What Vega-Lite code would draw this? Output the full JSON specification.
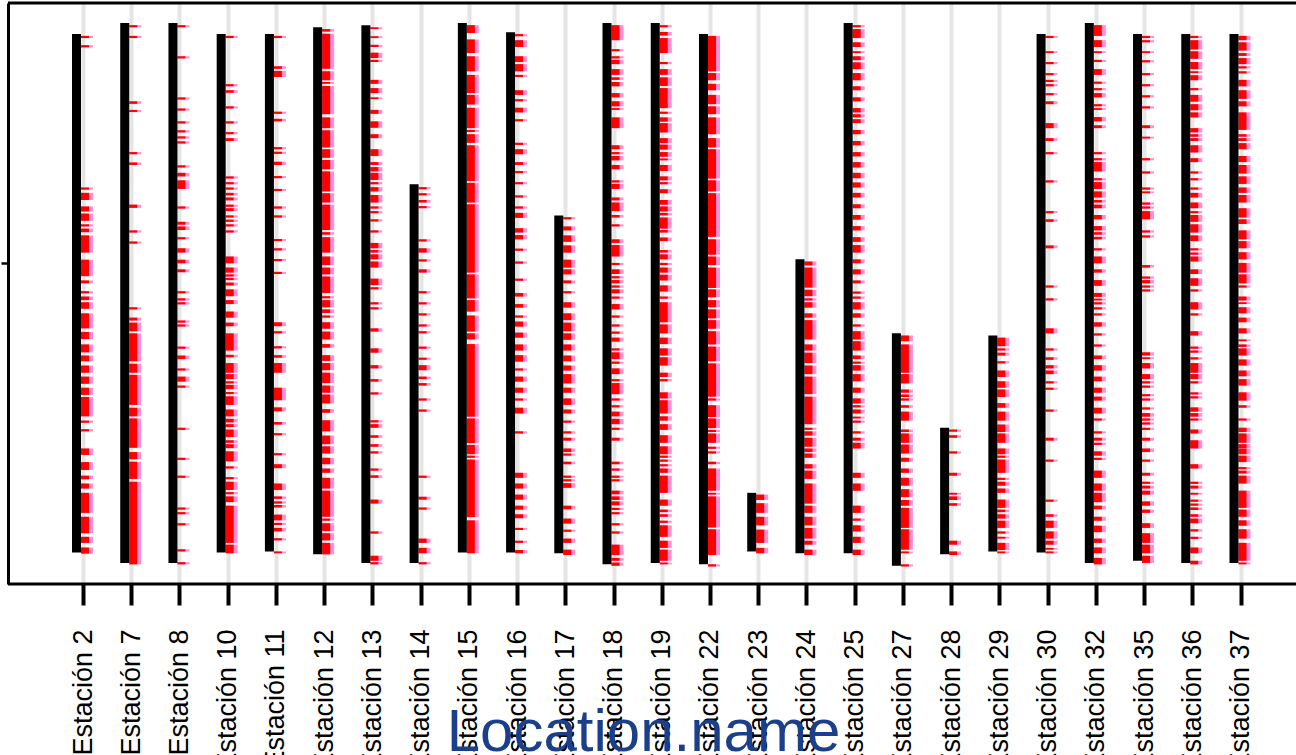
{
  "$schema": "https://vega.github.io/schema/vega-lite/v6.json",
  "width": 1288,
  "height": 581,
  "autosize": "none",
  "padding": {"left": 8, "top": 3, "right": 0, "bottom": 171},
  "background": "white",
  "config": {
    "view": {"stroke": null},
    "axisX": {
      "domain": false,
      "tickColor": "black", "tickWidth": 4, "tickSize": 21,
      "grid": true, "gridColor": "#e5e5e5", "gridWidth": 4,
      "labelAngle": 270, "labelFont": "Liberation Sans, Arial, sans-serif",
      "labelFontSize": 27, "labelColor": "black", "labelPadding": 24, "labelOverlap": false, "labelLimit": 400, "labelBound": false,
      "titleFont": "Liberation Sans, Arial, sans-serif", "titleFontSize": 60, "titleFontWeight": "normal",
      "titleColor": "#1b3f8b", "titleY": 166, "titleX": 635, "titleAlign": "center", "titleBaseline": "alphabetic"
    },
    "axisY": {
      "domainColor": "black", "domainWidth": 3, "tickColor": "black", "tickWidth": 2.5, "tickSize": 7,
      "labels": false, "grid": false, "title": null
    }
  },
  "datasets": {
    "negro": [
      {"s":"Estación 2","a":53,"b":1503},{"s":"Estación 7","a":22,"b":1532},{"s":"Estación 8","a":22,"b":1532},
      {"s":"Estación 10","a":53,"b":1503},{"s":"Estación 11","a":53,"b":1500},{"s":"Estación 12","a":34,"b":1508},
      {"s":"Estación 13","a":28,"b":1532},{"s":"Estación 14","a":473,"b":1532},{"s":"Estación 15","a":22,"b":1503},
      {"s":"Estación 16","a":48,"b":1503},{"s":"Estación 17","a":560,"b":1505},{"s":"Estación 18","a":22,"b":1536},
      {"s":"Estación 19","a":22,"b":1532},{"s":"Estación 22","a":53,"b":1536},{"s":"Estación 23","a":1336,"b":1500},
      {"s":"Estación 24","a":683,"b":1505},{"s":"Estación 25","a":22,"b":1505},{"s":"Estación 27","a":890,"b":1540},
      {"s":"Estación 28","a":1154,"b":1508},{"s":"Estación 29","a":896,"b":1500},{"s":"Estación 30","a":53,"b":1503},
      {"s":"Estación 32","a":22,"b":1532},{"s":"Estación 35","a":53,"b":1526},{"s":"Estación 36","a":53,"b":1532},
      {"s":"Estación 37","a":53,"b":1532}
    ],
    "rojo": [
      {"s":"Estación 2","a":58,"b":64},{"s":"Estación 2","a":84,"b":90},{"s":"Estación 2","a":482,"b":488},{"s":"Estación 2","a":497,"b":517},{"s":"Estación 2","a":535,"b":549},{"s":"Estación 2","a":555,"b":575},{"s":"Estación 2","a":585,"b":591},{"s":"Estación 2","a":597,"b":607},{"s":"Estación 2","a":616,"b":664},{"s":"Estación 2","a":684,"b":730},{"s":"Estación 2","a":742,"b":750},{"s":"Estación 2","a":772,"b":778},{"s":"Estación 2","a":787,"b":797},{"s":"Estación 2","a":803,"b":821},{"s":"Estación 2","a":834,"b":876},{"s":"Estación 2","a":886,"b":906},{"s":"Estación 2","a":921,"b":943},{"s":"Estación 2","a":952,"b":968},{"s":"Estación 2","a":980,"b":1000},{"s":"Estación 2","a":1011,"b":1031},{"s":"Estación 2","a":1042,"b":1062},{"s":"Estación 2","a":1068,"b":1122},{"s":"Estación 2","a":1134,"b":1140},{"s":"Estación 2","a":1158,"b":1164},{"s":"Estación 2","a":1212,"b":1230},{"s":"Estación 2","a":1250,"b":1272},{"s":"Estación 2","a":1288,"b":1298},{"s":"Estación 2","a":1310,"b":1324},{"s":"Estación 2","a":1336,"b":1392},{"s":"Estación 2","a":1403,"b":1449},{"s":"Estación 2","a":1459,"b":1476},{"s":"Estación 2","a":1489,"b":1506},
      {"s":"Estación 7","a":28,"b":34},{"s":"Estación 7","a":58,"b":64},{"s":"Estación 7","a":241,"b":248},{"s":"Estación 7","a":265,"b":271},{"s":"Estación 7","a":383,"b":389},{"s":"Estación 7","a":412,"b":419},{"s":"Estación 7","a":530,"b":539},{"s":"Estación 7","a":602,"b":608},{"s":"Estación 7","a":633,"b":639},{"s":"Estación 7","a":817,"b":823},{"s":"Estación 7","a":846,"b":854},{"s":"Estación 7","a":860,"b":884},{"s":"Estación 7","a":890,"b":968},{"s":"Estación 7","a":975,"b":1000},{"s":"Estación 7","a":1006,"b":1090},{"s":"Estación 7","a":1098,"b":1122},{"s":"Estación 7","a":1128,"b":1210},{"s":"Estación 7","a":1222,"b":1242},{"s":"Estación 7","a":1249,"b":1297},{"s":"Estación 7","a":1305,"b":1536},
      {"s":"Estación 8","a":28,"b":34},{"s":"Estación 8","a":115,"b":121},{"s":"Estación 8","a":230,"b":236},{"s":"Estación 8","a":261,"b":267},{"s":"Estación 8","a":297,"b":303},{"s":"Estación 8","a":322,"b":328},{"s":"Estación 8","a":339,"b":345},{"s":"Estación 8","a":353,"b":359},{"s":"Estación 8","a":420,"b":426},{"s":"Estación 8","a":441,"b":451},{"s":"Estación 8","a":462,"b":486},{"s":"Estación 8","a":535,"b":541},{"s":"Estación 8","a":578,"b":586},{"s":"Estación 8","a":591,"b":601},{"s":"Estación 8","a":621,"b":627},{"s":"Estación 8","a":652,"b":664},{"s":"Estación 8","a":684,"b":694},{"s":"Estación 8","a":711,"b":719},{"s":"Estación 8","a":772,"b":778},{"s":"Estación 8","a":792,"b":798},{"s":"Estación 8","a":803,"b":809},{"s":"Estación 8","a":854,"b":860},{"s":"Estación 8","a":865,"b":871},{"s":"Estación 8","a":927,"b":933},{"s":"Estación 8","a":952,"b":962},{"s":"Estación 8","a":988,"b":994},{"s":"Estación 8","a":1011,"b":1025},{"s":"Estación 8","a":1036,"b":1042},{"s":"Estación 8","a":1154,"b":1160},{"s":"Estación 8","a":1238,"b":1244},{"s":"Estación 8","a":1288,"b":1294},{"s":"Estación 8","a":1377,"b":1383},{"s":"Estación 8","a":1390,"b":1396},{"s":"Estación 8","a":1421,"b":1427},{"s":"Estación 8","a":1494,"b":1500},{"s":"Estación 8","a":1530,"b":1536},
      {"s":"Estación 10","a":58,"b":64},{"s":"Estación 10","a":193,"b":199},{"s":"Estación 10","a":210,"b":217},{"s":"Estación 10","a":255,"b":261},{"s":"Estación 10","a":297,"b":303},{"s":"Estación 10","a":327,"b":333},{"s":"Estación 10","a":344,"b":352},{"s":"Estación 10","a":451,"b":457},{"s":"Estación 10","a":467,"b":473},{"s":"Estación 10","a":482,"b":488},{"s":"Estación 10","a":497,"b":504},{"s":"Estación 10","a":510,"b":518},{"s":"Estación 10","a":530,"b":536},{"s":"Estación 10","a":540,"b":548},{"s":"Estación 10","a":560,"b":566},{"s":"Estación 10","a":572,"b":578},{"s":"Estación 10","a":585,"b":591},{"s":"Estación 10","a":602,"b":608},{"s":"Estación 10","a":675,"b":694},{"s":"Estación 10","a":706,"b":720},{"s":"Estación 10","a":725,"b":731},{"s":"Estación 10","a":735,"b":741},{"s":"Estación 10","a":748,"b":756},{"s":"Estación 10","a":767,"b":786},{"s":"Estación 10","a":797,"b":808},{"s":"Estación 10","a":829,"b":846},{"s":"Estación 10","a":860,"b":870},{"s":"Estación 10","a":890,"b":938},{"s":"Estación 10","a":950,"b":957},{"s":"Estación 10","a":973,"b":1000},{"s":"Estación 10","a":1004,"b":1018},{"s":"Estación 10","a":1024,"b":1030},{"s":"Estación 10","a":1034,"b":1046},{"s":"Estación 10","a":1054,"b":1060},{"s":"Estación 10","a":1066,"b":1090},{"s":"Estación 10","a":1103,"b":1122},{"s":"Estación 10","a":1129,"b":1139},{"s":"Estación 10","a":1144,"b":1152},{"s":"Estación 10","a":1159,"b":1180},{"s":"Estación 10","a":1189,"b":1196},{"s":"Estación 10","a":1200,"b":1211},{"s":"Estación 10","a":1220,"b":1248},{"s":"Estación 10","a":1262,"b":1268},{"s":"Estación 10","a":1292,"b":1298},{"s":"Estación 10","a":1305,"b":1328},{"s":"Estación 10","a":1334,"b":1340},{"s":"Estación 10","a":1346,"b":1362},{"s":"Estación 10","a":1372,"b":1476},{"s":"Estación 10","a":1481,"b":1505},
      {"s":"Estación 11","a":58,"b":64},{"s":"Estación 11","a":143,"b":150},{"s":"Estación 11","a":156,"b":173},{"s":"Estación 11","a":270,"b":276},{"s":"Estación 11","a":290,"b":297},{"s":"Estación 11","a":369,"b":375},{"s":"Estación 11","a":382,"b":388},{"s":"Estación 11","a":410,"b":419},{"s":"Estación 11","a":450,"b":456},{"s":"Estación 11","a":486,"b":492},{"s":"Estación 11","a":535,"b":541},{"s":"Estación 11","a":560,"b":566},{"s":"Estación 11","a":626,"b":632},{"s":"Estación 11","a":652,"b":658},{"s":"Estación 11","a":682,"b":688},{"s":"Estación 11","a":718,"b":724},{"s":"Estación 11","a":859,"b":870},{"s":"Estación 11","a":884,"b":890},{"s":"Estación 11","a":926,"b":932},{"s":"Estación 11","a":951,"b":958},{"s":"Estación 11","a":973,"b":1000},{"s":"Estación 11","a":1042,"b":1077},{"s":"Estación 11","a":1097,"b":1108},{"s":"Estación 11","a":1138,"b":1145},{"s":"Estación 11","a":1169,"b":1175},{"s":"Estación 11","a":1225,"b":1231},{"s":"Estación 11","a":1256,"b":1267},{"s":"Estación 11","a":1310,"b":1328},{"s":"Estación 11","a":1346,"b":1353},{"s":"Estación 11","a":1360,"b":1366},{"s":"Estación 11","a":1370,"b":1377},{"s":"Estación 11","a":1397,"b":1413},{"s":"Estación 11","a":1420,"b":1426},{"s":"Estación 11","a":1434,"b":1444},{"s":"Estación 11","a":1463,"b":1469},{"s":"Estación 11","a":1500,"b":1505},
      {"s":"Estación 12","a":39,"b":46},{"s":"Estación 12","a":52,"b":150},{"s":"Estación 12","a":157,"b":182},{"s":"Estación 12","a":187,"b":192},{"s":"Estación 12","a":198,"b":277},{"s":"Estación 12","a":286,"b":316},{"s":"Estación 12","a":322,"b":370},{"s":"Estación 12","a":375,"b":399},{"s":"Estación 12","a":405,"b":431},{"s":"Estación 12","a":437,"b":493},{"s":"Estación 12","a":498,"b":524},{"s":"Estación 12","a":530,"b":601},{"s":"Estación 12","a":607,"b":614},{"s":"Estación 12","a":621,"b":664},{"s":"Estación 12","a":675,"b":699},{"s":"Estación 12","a":706,"b":725},{"s":"Estación 12","a":731,"b":777},{"s":"Estación 12","a":786,"b":792},{"s":"Estación 12","a":797,"b":817},{"s":"Estación 12","a":823,"b":833},{"s":"Estación 12","a":840,"b":846},{"s":"Estación 12","a":859,"b":877},{"s":"Estación 12","a":885,"b":907},{"s":"Estación 12","a":920,"b":930},{"s":"Estación 12","a":951,"b":967},{"s":"Estación 12","a":973,"b":993},{"s":"Estación 12","a":1000,"b":1029},{"s":"Estación 12","a":1036,"b":1056},{"s":"Estación 12","a":1061,"b":1086},{"s":"Estación 12","a":1102,"b":1112},{"s":"Estación 12","a":1133,"b":1164},{"s":"Estación 12","a":1176,"b":1200},{"s":"Estación 12","a":1206,"b":1226},{"s":"Estación 12","a":1238,"b":1256},{"s":"Estación 12","a":1268,"b":1280},{"s":"Estación 12","a":1294,"b":1324},{"s":"Estación 12","a":1330,"b":1403},{"s":"Estación 12","a":1408,"b":1414},{"s":"Estación 12","a":1421,"b":1443},{"s":"Estación 12","a":1449,"b":1469},{"s":"Estación 12","a":1476,"b":1508},
      {"s":"Estación 13","a":34,"b":39},{"s":"Estación 13","a":59,"b":64},{"s":"Estación 13","a":83,"b":89},{"s":"Estación 13","a":105,"b":120},{"s":"Estación 13","a":125,"b":131},{"s":"Estación 13","a":181,"b":192},{"s":"Estación 13","a":204,"b":218},{"s":"Estación 13","a":230,"b":235},{"s":"Estación 13","a":265,"b":276},{"s":"Estación 13","a":297,"b":315},{"s":"Estación 13","a":333,"b":344},{"s":"Estación 13","a":375,"b":394},{"s":"Estación 13","a":411,"b":419},{"s":"Estación 13","a":425,"b":437},{"s":"Estación 13","a":441,"b":461},{"s":"Estación 13","a":467,"b":473},{"s":"Estación 13","a":481,"b":493},{"s":"Estación 13","a":503,"b":524},{"s":"Estación 13","a":535,"b":541},{"s":"Estación 13","a":548,"b":554},{"s":"Estación 13","a":571,"b":577},{"s":"Estación 13","a":602,"b":608},{"s":"Estación 13","a":637,"b":652},{"s":"Estación 13","a":657,"b":664},{"s":"Estación 13","a":669,"b":683},{"s":"Estación 13","a":689,"b":706},{"s":"Estación 13","a":737,"b":755},{"s":"Estación 13","a":761,"b":767},{"s":"Estación 13","a":803,"b":809},{"s":"Estación 13","a":817,"b":823},{"s":"Estación 13","a":876,"b":885},{"s":"Estación 13","a":932,"b":944},{"s":"Estación 13","a":979,"b":988},{"s":"Estación 13","a":1018,"b":1025},{"s":"Estación 13","a":1055,"b":1061},{"s":"Estación 13","a":1133,"b":1139},{"s":"Estación 13","a":1144,"b":1154},{"s":"Estación 13","a":1175,"b":1182},{"s":"Estación 13","a":1200,"b":1207},{"s":"Estación 13","a":1220,"b":1226},{"s":"Estación 13","a":1268,"b":1274},{"s":"Estación 13","a":1287,"b":1294},{"s":"Estación 13","a":1355,"b":1366},{"s":"Estación 13","a":1444,"b":1450},{"s":"Estación 13","a":1512,"b":1526},{"s":"Estación 13","a":1530,"b":1536},
      {"s":"Estación 14","a":481,"b":487},{"s":"Estación 14","a":498,"b":504},{"s":"Estación 14","a":517,"b":524},{"s":"Estación 14","a":534,"b":540},{"s":"Estación 14","a":627,"b":633},{"s":"Estación 14","a":652,"b":664},{"s":"Estación 14","a":683,"b":689},{"s":"Estación 14","a":711,"b":720},{"s":"Estación 14","a":772,"b":778},{"s":"Estación 14","a":803,"b":809},{"s":"Estación 14","a":834,"b":840},{"s":"Estación 14","a":865,"b":871},{"s":"Estación 14","a":884,"b":890},{"s":"Estación 14","a":927,"b":933},{"s":"Estación 14","a":958,"b":964},{"s":"Estación 14","a":979,"b":993},{"s":"Estación 14","a":1011,"b":1018},{"s":"Estación 14","a":1029,"b":1036},{"s":"Estación 14","a":1072,"b":1078},{"s":"Estación 14","a":1103,"b":1109},{"s":"Estación 14","a":1288,"b":1294},{"s":"Estación 14","a":1347,"b":1355},{"s":"Estación 14","a":1377,"b":1383},{"s":"Estación 14","a":1464,"b":1476},{"s":"Estación 14","a":1490,"b":1505},{"s":"Estación 14","a":1530,"b":1536},
      {"s":"Estación 15","a":28,"b":50},{"s":"Estación 15","a":68,"b":106},{"s":"Estación 15","a":115,"b":157},{"s":"Estación 15","a":167,"b":218},{"s":"Estación 15","a":223,"b":250},{"s":"Estación 15","a":259,"b":316},{"s":"Estación 15","a":321,"b":327},{"s":"Estación 15","a":333,"b":357},{"s":"Estación 15","a":364,"b":464},{"s":"Estación 15","a":469,"b":524},{"s":"Estación 15","a":529,"b":720},{"s":"Estación 15","a":725,"b":792},{"s":"Estación 15","a":797,"b":829},{"s":"Estación 15","a":840,"b":885},{"s":"Estación 15","a":890,"b":907},{"s":"Estación 15","a":920,"b":1123},{"s":"Estación 15","a":1128,"b":1197},{"s":"Estación 15","a":1202,"b":1228},{"s":"Estación 15","a":1232,"b":1238},{"s":"Estación 15","a":1243,"b":1404},{"s":"Estación 15","a":1413,"b":1505},
      {"s":"Estación 16","a":53,"b":59},{"s":"Estación 16","a":70,"b":89},{"s":"Estación 16","a":115,"b":131},{"s":"Estación 16","a":137,"b":157},{"s":"Estación 16","a":167,"b":173},{"s":"Estación 16","a":210,"b":223},{"s":"Estación 16","a":235,"b":241},{"s":"Estación 16","a":259,"b":272},{"s":"Estación 16","a":291,"b":297},{"s":"Estación 16","a":357,"b":363},{"s":"Estación 16","a":375,"b":389},{"s":"Estación 16","a":411,"b":419},{"s":"Estación 16","a":436,"b":442},{"s":"Estación 16","a":467,"b":473},{"s":"Estación 16","a":504,"b":510},{"s":"Estación 16","a":535,"b":541},{"s":"Estación 16","a":553,"b":567},{"s":"Estación 16","a":596,"b":608},{"s":"Estación 16","a":615,"b":627},{"s":"Estación 16","a":653,"b":659},{"s":"Estación 16","a":689,"b":695},{"s":"Estación 16","a":737,"b":743},{"s":"Estación 16","a":777,"b":787},{"s":"Estación 16","a":808,"b":818},{"s":"Estación 16","a":840,"b":846},{"s":"Estación 16","a":857,"b":871},{"s":"Estación 16","a":888,"b":902},{"s":"Estación 16","a":921,"b":938},{"s":"Estación 16","a":951,"b":969},{"s":"Estación 16","a":988,"b":994},{"s":"Estación 16","a":1011,"b":1025},{"s":"Estación 16","a":1042,"b":1056},{"s":"Estación 16","a":1072,"b":1078},{"s":"Estación 16","a":1098,"b":1114},{"s":"Estación 16","a":1164,"b":1170},{"s":"Estación 16","a":1280,"b":1294},{"s":"Estación 16","a":1310,"b":1324},{"s":"Estación 16","a":1341,"b":1355},{"s":"Estación 16","a":1372,"b":1383},{"s":"Estación 16","a":1396,"b":1407},{"s":"Estación 16","a":1434,"b":1440},{"s":"Estación 16","a":1470,"b":1476},{"s":"Estación 16","a":1496,"b":1505},
      {"s":"Estación 17","a":565,"b":571},{"s":"Estación 17","a":591,"b":602},{"s":"Estación 17","a":616,"b":634},{"s":"Estación 17","a":644,"b":664},{"s":"Estación 17","a":684,"b":706},{"s":"Estación 17","a":711,"b":725},{"s":"Estación 17","a":742,"b":750},{"s":"Estación 17","a":772,"b":778},{"s":"Estación 17","a":803,"b":818},{"s":"Estación 17","a":834,"b":853},{"s":"Estación 17","a":860,"b":884},{"s":"Estación 17","a":890,"b":908},{"s":"Estación 17","a":921,"b":938},{"s":"Estación 17","a":952,"b":968},{"s":"Estación 17","a":980,"b":994},{"s":"Estación 17","a":1004,"b":1030},{"s":"Estación 17","a":1042,"b":1056},{"s":"Estación 17","a":1072,"b":1090},{"s":"Estación 17","a":1103,"b":1114},{"s":"Estación 17","a":1134,"b":1140},{"s":"Estación 17","a":1164,"b":1170},{"s":"Estación 17","a":1182,"b":1190},{"s":"Estación 17","a":1212,"b":1222},{"s":"Estación 17","a":1226,"b":1232},{"s":"Estación 17","a":1249,"b":1256},{"s":"Estación 17","a":1288,"b":1294},{"s":"Estación 17","a":1298,"b":1304},{"s":"Estación 17","a":1309,"b":1322},{"s":"Estación 17","a":1372,"b":1382},{"s":"Estación 17","a":1408,"b":1422},{"s":"Estación 17","a":1439,"b":1445},{"s":"Estación 17","a":1464,"b":1476},{"s":"Estación 17","a":1495,"b":1510},
      {"s":"Estación 18","a":28,"b":70},{"s":"Estación 18","a":95,"b":101},{"s":"Estación 18","a":115,"b":121},{"s":"Estación 18","a":125,"b":137},{"s":"Estación 18","a":151,"b":167},{"s":"Estación 18","a":174,"b":181},{"s":"Estación 18","a":187,"b":199},{"s":"Estación 18","a":218,"b":230},{"s":"Estación 18","a":241,"b":255},{"s":"Estación 18","a":260,"b":265},{"s":"Estación 18","a":286,"b":316},{"s":"Estación 18","a":364,"b":375},{"s":"Estación 18","a":383,"b":389},{"s":"Estación 18","a":394,"b":406},{"s":"Estación 18","a":419,"b":431},{"s":"Estación 18","a":462,"b":468},{"s":"Estación 18","a":472,"b":486},{"s":"Estación 18","a":510,"b":518},{"s":"Estación 18","a":524,"b":548},{"s":"Estación 18","a":559,"b":566},{"s":"Estación 18","a":585,"b":591},{"s":"Estación 18","a":627,"b":637},{"s":"Estación 18","a":643,"b":675},{"s":"Estación 18","a":693,"b":699},{"s":"Estación 18","a":711,"b":724},{"s":"Estación 18","a":730,"b":736},{"s":"Estación 18","a":741,"b":750},{"s":"Estación 18","a":756,"b":762},{"s":"Estación 18","a":767,"b":778},{"s":"Estación 18","a":787,"b":793},{"s":"Estación 18","a":808,"b":823},{"s":"Estación 18","a":840,"b":846},{"s":"Estación 18","a":865,"b":871},{"s":"Estación 18","a":885,"b":891},{"s":"Estación 18","a":902,"b":913},{"s":"Estación 18","a":932,"b":938},{"s":"Estación 18","a":943,"b":962},{"s":"Estación 18","a":969,"b":975},{"s":"Estación 18","a":988,"b":1004},{"s":"Estación 18","a":1018,"b":1024},{"s":"Estación 18","a":1029,"b":1060},{"s":"Estación 18","a":1072,"b":1078},{"s":"Estación 18","a":1091,"b":1097},{"s":"Estación 18","a":1109,"b":1122},{"s":"Estación 18","a":1129,"b":1144},{"s":"Estación 18","a":1154,"b":1160},{"s":"Estación 18","a":1182,"b":1190},{"s":"Estación 18","a":1249,"b":1256},{"s":"Estación 18","a":1268,"b":1274},{"s":"Estación 18","a":1288,"b":1294},{"s":"Estación 18","a":1298,"b":1304},{"s":"Estación 18","a":1330,"b":1340},{"s":"Estación 18","a":1346,"b":1356},{"s":"Estación 18","a":1360,"b":1371},{"s":"Estación 18","a":1378,"b":1384},{"s":"Estación 18","a":1390,"b":1396},{"s":"Estación 18","a":1421,"b":1427},{"s":"Estación 18","a":1444,"b":1450},{"s":"Estación 18","a":1481,"b":1510},{"s":"Estación 18","a":1518,"b":1526},{"s":"Estación 18","a":1531,"b":1540},
      {"s":"Estación 19","a":28,"b":34},{"s":"Estación 19","a":47,"b":57},{"s":"Estación 19","a":64,"b":106},{"s":"Estación 19","a":131,"b":137},{"s":"Estación 19","a":151,"b":167},{"s":"Estación 19","a":174,"b":198},{"s":"Estación 19","a":204,"b":260},{"s":"Estación 19","a":270,"b":276},{"s":"Estación 19","a":286,"b":298},{"s":"Estación 19","a":302,"b":328},{"s":"Estación 19","a":344,"b":358},{"s":"Estación 19","a":362,"b":376},{"s":"Estación 19","a":383,"b":396},{"s":"Estación 19","a":401,"b":406},{"s":"Estación 19","a":419,"b":436},{"s":"Estación 19","a":451,"b":462},{"s":"Estación 19","a":467,"b":473},{"s":"Estación 19","a":487,"b":498},{"s":"Estación 19","a":517,"b":530},{"s":"Estación 19","a":535,"b":549},{"s":"Estación 19","a":553,"b":560},{"s":"Estación 19","a":566,"b":597},{"s":"Estación 19","a":601,"b":608},{"s":"Estación 19","a":622,"b":632},{"s":"Estación 19","a":657,"b":664},{"s":"Estación 19","a":669,"b":683},{"s":"Estación 19","a":693,"b":699},{"s":"Estación 19","a":706,"b":720},{"s":"Estación 19","a":726,"b":742},{"s":"Estación 19","a":756,"b":773},{"s":"Estación 19","a":787,"b":793},{"s":"Estación 19","a":803,"b":859},{"s":"Estación 19","a":865,"b":890},{"s":"Estación 19","a":902,"b":920},{"s":"Estación 19","a":932,"b":952},{"s":"Estación 19","a":957,"b":980},{"s":"Estación 19","a":1000,"b":1012},{"s":"Estación 19","a":1018,"b":1024},{"s":"Estación 19","a":1055,"b":1072},{"s":"Estación 19","a":1077,"b":1114},{"s":"Estación 19","a":1122,"b":1134},{"s":"Estación 19","a":1144,"b":1160},{"s":"Estación 19","a":1175,"b":1196},{"s":"Estación 19","a":1206,"b":1228},{"s":"Estación 19","a":1232,"b":1238},{"s":"Estación 19","a":1243,"b":1249},{"s":"Estación 19","a":1256,"b":1262},{"s":"Estación 19","a":1268,"b":1280},{"s":"Estación 19","a":1288,"b":1336},{"s":"Estación 19","a":1355,"b":1372},{"s":"Estación 19","a":1383,"b":1390},{"s":"Estación 19","a":1396,"b":1403},{"s":"Estación 19","a":1414,"b":1420},{"s":"Estación 19","a":1427,"b":1459},{"s":"Estación 19","a":1470,"b":1490},{"s":"Estación 19","a":1495,"b":1526},{"s":"Estación 19","a":1531,"b":1536},
      {"s":"Estación 22","a":58,"b":157},{"s":"Estación 22","a":162,"b":182},{"s":"Estación 22","a":192,"b":210},{"s":"Estación 22","a":223,"b":249},{"s":"Estación 22","a":255,"b":277},{"s":"Estación 22","a":286,"b":333},{"s":"Estación 22","a":344,"b":370},{"s":"Estación 22","a":375,"b":457},{"s":"Estación 22","a":462,"b":493},{"s":"Estación 22","a":498,"b":620},{"s":"Estación 22","a":627,"b":670},{"s":"Estación 22","a":675,"b":699},{"s":"Estación 22","a":706,"b":763},{"s":"Estación 22","a":767,"b":789},{"s":"Estación 22","a":797,"b":817},{"s":"Estación 22","a":823,"b":848},{"s":"Estación 22","a":853,"b":877},{"s":"Estación 22","a":884,"b":921},{"s":"Estación 22","a":927,"b":968},{"s":"Estación 22","a":974,"b":1067},{"s":"Estación 22","a":1072,"b":1078},{"s":"Estación 22","a":1091,"b":1124},{"s":"Estación 22","a":1128,"b":1155},{"s":"Estación 22","a":1160,"b":1166},{"s":"Estación 22","a":1170,"b":1196},{"s":"Estación 22","a":1207,"b":1213},{"s":"Estación 22","a":1220,"b":1226},{"s":"Estación 22","a":1249,"b":1256},{"s":"Estación 22","a":1268,"b":1330},{"s":"Estación 22","a":1336,"b":1341},{"s":"Estación 22","a":1346,"b":1433},{"s":"Estación 22","a":1438,"b":1510},{"s":"Estación 22","a":1536,"b":1542},
      {"s":"Estación 23","a":1341,"b":1356},{"s":"Estación 23","a":1365,"b":1392},{"s":"Estación 23","a":1403,"b":1427},{"s":"Estación 23","a":1439,"b":1476},{"s":"Estación 23","a":1490,"b":1505},
      {"s":"Estación 24","a":689,"b":700},{"s":"Estación 24","a":706,"b":762},{"s":"Estación 24","a":768,"b":786},{"s":"Estación 24","a":792,"b":798},{"s":"Estación 24","a":803,"b":818},{"s":"Estación 24","a":834,"b":846},{"s":"Estación 24","a":853,"b":907},{"s":"Estación 24","a":921,"b":938},{"s":"Estación 24","a":944,"b":973},{"s":"Estación 24","a":980,"b":1004},{"s":"Estación 24","a":1011,"b":1060},{"s":"Estación 24","a":1067,"b":1144},{"s":"Estación 24","a":1154,"b":1160},{"s":"Estación 24","a":1164,"b":1176},{"s":"Estación 24","a":1182,"b":1207},{"s":"Estación 24","a":1212,"b":1222},{"s":"Estación 24","a":1226,"b":1238},{"s":"Estación 24","a":1256,"b":1268},{"s":"Estación 24","a":1274,"b":1297},{"s":"Estación 24","a":1310,"b":1366},{"s":"Estación 24","a":1372,"b":1392},{"s":"Estación 24","a":1403,"b":1427},{"s":"Estación 24","a":1434,"b":1464},{"s":"Estación 24","a":1470,"b":1481},{"s":"Estación 24","a":1495,"b":1510},
      {"s":"Estación 25","a":28,"b":34},{"s":"Estación 25","a":39,"b":64},{"s":"Estación 25","a":76,"b":89},{"s":"Estación 25","a":101,"b":106},{"s":"Estación 25","a":115,"b":126},{"s":"Estación 25","a":132,"b":151},{"s":"Estación 25","a":162,"b":182},{"s":"Estación 25","a":199,"b":210},{"s":"Estación 25","a":230,"b":241},{"s":"Estación 25","a":260,"b":272},{"s":"Estación 25","a":277,"b":286},{"s":"Estación 25","a":291,"b":302},{"s":"Estación 25","a":321,"b":333},{"s":"Estación 25","a":352,"b":364},{"s":"Estación 25","a":383,"b":395},{"s":"Estación 25","a":411,"b":426},{"s":"Estación 25","a":441,"b":456},{"s":"Estación 25","a":468,"b":482},{"s":"Estación 25","a":497,"b":510},{"s":"Estación 25","a":529,"b":540},{"s":"Estación 25","a":559,"b":572},{"s":"Estación 25","a":590,"b":602},{"s":"Estación 25","a":621,"b":634},{"s":"Estación 25","a":643,"b":664},{"s":"Estación 25","a":683,"b":694},{"s":"Estación 25","a":711,"b":725},{"s":"Estación 25","a":742,"b":750},{"s":"Estación 25","a":773,"b":779},{"s":"Estación 25","a":787,"b":793},{"s":"Estación 25","a":803,"b":823},{"s":"Estación 25","a":834,"b":846},{"s":"Estación 25","a":865,"b":871},{"s":"Estación 25","a":884,"b":907},{"s":"Estación 25","a":912,"b":938},{"s":"Estación 25","a":952,"b":962},{"s":"Estación 25","a":969,"b":975},{"s":"Estación 25","a":979,"b":994},{"s":"Estación 25","a":1004,"b":1024},{"s":"Estación 25","a":1042,"b":1056},{"s":"Estación 25","a":1072,"b":1086},{"s":"Estación 25","a":1091,"b":1097},{"s":"Estación 25","a":1103,"b":1114},{"s":"Estación 25","a":1123,"b":1128},{"s":"Estación 25","a":1134,"b":1140},{"s":"Estación 25","a":1164,"b":1170},{"s":"Estación 25","a":1182,"b":1190},{"s":"Estación 25","a":1196,"b":1212},{"s":"Estación 25","a":1280,"b":1294},{"s":"Estación 25","a":1310,"b":1330},{"s":"Estación 25","a":1372,"b":1392},{"s":"Estación 25","a":1408,"b":1414},{"s":"Estación 25","a":1427,"b":1444},{"s":"Estación 25","a":1459,"b":1476},{"s":"Estación 25","a":1495,"b":1510},
      {"s":"Estación 27","a":896,"b":912},{"s":"Estación 27","a":921,"b":1000},{"s":"Estación 27","a":1004,"b":1030},{"s":"Estación 27","a":1047,"b":1056},{"s":"Estación 27","a":1061,"b":1068},{"s":"Estación 27","a":1072,"b":1078},{"s":"Estación 27","a":1091,"b":1098},{"s":"Estación 27","a":1109,"b":1134},{"s":"Estación 27","a":1159,"b":1166},{"s":"Estación 27","a":1170,"b":1196},{"s":"Estación 27","a":1201,"b":1226},{"s":"Estación 27","a":1238,"b":1249},{"s":"Estación 27","a":1268,"b":1280},{"s":"Estación 27","a":1294,"b":1316},{"s":"Estación 27","a":1326,"b":1348},{"s":"Estación 27","a":1356,"b":1372},{"s":"Estación 27","a":1378,"b":1434},{"s":"Estación 27","a":1438,"b":1495},{"s":"Estación 27","a":1500,"b":1505},{"s":"Estación 27","a":1536,"b":1542},
      {"s":"Estación 28","a":1159,"b":1165},{"s":"Estación 28","a":1175,"b":1182},{"s":"Estación 28","a":1220,"b":1226},{"s":"Estación 28","a":1280,"b":1288},{"s":"Estación 28","a":1336,"b":1341},{"s":"Estación 28","a":1346,"b":1356},{"s":"Estación 28","a":1365,"b":1372},{"s":"Estación 28","a":1470,"b":1481},{"s":"Estación 28","a":1500,"b":1510},
      {"s":"Estación 29","a":902,"b":926},{"s":"Estación 29","a":932,"b":938},{"s":"Estación 29","a":944,"b":952},{"s":"Estación 29","a":968,"b":974},{"s":"Estación 29","a":994,"b":1012},{"s":"Estación 29","a":1024,"b":1042},{"s":"Estación 29","a":1047,"b":1068},{"s":"Estación 29","a":1085,"b":1098},{"s":"Estación 29","a":1109,"b":1134},{"s":"Estación 29","a":1145,"b":1166},{"s":"Estación 29","a":1170,"b":1196},{"s":"Estación 29","a":1212,"b":1228},{"s":"Estación 29","a":1232,"b":1238},{"s":"Estación 29","a":1243,"b":1280},{"s":"Estación 29","a":1294,"b":1300},{"s":"Estación 29","a":1305,"b":1316},{"s":"Estación 29","a":1324,"b":1336},{"s":"Estación 29","a":1355,"b":1378},{"s":"Estación 29","a":1383,"b":1390},{"s":"Estación 29","a":1396,"b":1408},{"s":"Estación 29","a":1414,"b":1434},{"s":"Estación 29","a":1444,"b":1450},{"s":"Estación 29","a":1459,"b":1464},{"s":"Estación 29","a":1476,"b":1496},{"s":"Estación 29","a":1500,"b":1505},
      {"s":"Estación 30","a":58,"b":64},{"s":"Estación 30","a":101,"b":106},{"s":"Estación 30","a":131,"b":137},{"s":"Estación 30","a":162,"b":168},{"s":"Estación 30","a":181,"b":187},{"s":"Estación 30","a":193,"b":199},{"s":"Estación 30","a":218,"b":224},{"s":"Estación 30","a":241,"b":249},{"s":"Estación 30","a":302,"b":316},{"s":"Estación 30","a":344,"b":352},{"s":"Estación 30","a":383,"b":389},{"s":"Estación 30","a":462,"b":468},{"s":"Estación 30","a":548,"b":554},{"s":"Estación 30","a":571,"b":578},{"s":"Estación 30","a":644,"b":652},{"s":"Estación 30","a":756,"b":762},{"s":"Estación 30","a":792,"b":798},{"s":"Estación 30","a":876,"b":890},{"s":"Estación 30","a":932,"b":938},{"s":"Estación 30","a":957,"b":964},{"s":"Estación 30","a":979,"b":988},{"s":"Estación 30","a":994,"b":1004},{"s":"Estación 30","a":1024,"b":1030},{"s":"Estación 30","a":1042,"b":1048},{"s":"Estación 30","a":1103,"b":1109},{"s":"Estación 30","a":1182,"b":1190},{"s":"Estación 30","a":1243,"b":1249},{"s":"Estación 30","a":1355,"b":1361},{"s":"Estación 30","a":1396,"b":1403},{"s":"Estación 30","a":1414,"b":1434},{"s":"Estación 30","a":1444,"b":1464},{"s":"Estación 30","a":1470,"b":1481},{"s":"Estación 30","a":1490,"b":1495},{"s":"Estación 30","a":1500,"b":1505},
      {"s":"Estación 32","a":28,"b":58},{"s":"Estación 32","a":70,"b":89},{"s":"Estación 32","a":101,"b":106},{"s":"Estación 32","a":125,"b":131},{"s":"Estación 32","a":151,"b":167},{"s":"Estación 32","a":186,"b":192},{"s":"Estación 32","a":204,"b":210},{"s":"Estación 32","a":218,"b":230},{"s":"Estación 32","a":249,"b":255},{"s":"Estación 32","a":260,"b":265},{"s":"Estación 32","a":285,"b":297},{"s":"Estación 32","a":308,"b":316},{"s":"Estación 32","a":383,"b":389},{"s":"Estación 32","a":400,"b":406},{"s":"Estación 32","a":411,"b":437},{"s":"Estación 32","a":456,"b":462},{"s":"Estación 32","a":467,"b":486},{"s":"Estación 32","a":493,"b":510},{"s":"Estación 32","a":517,"b":524},{"s":"Estación 32","a":530,"b":540},{"s":"Estación 32","a":559,"b":571},{"s":"Estación 32","a":590,"b":602},{"s":"Estación 32","a":607,"b":614},{"s":"Estación 32","a":620,"b":627},{"s":"Estación 32","a":652,"b":658},{"s":"Estación 32","a":675,"b":694},{"s":"Estación 32","a":711,"b":720},{"s":"Estación 32","a":741,"b":757},{"s":"Estación 32","a":777,"b":788},{"s":"Estación 32","a":793,"b":798},{"s":"Estación 32","a":803,"b":809},{"s":"Estación 32","a":817,"b":823},{"s":"Estación 32","a":834,"b":840},{"s":"Estación 32","a":859,"b":871},{"s":"Estación 32","a":890,"b":896},{"s":"Estación 32","a":921,"b":927},{"s":"Estación 32","a":952,"b":962},{"s":"Estación 32","a":979,"b":994},{"s":"Estación 32","a":1011,"b":1024},{"s":"Estación 32","a":1042,"b":1056},{"s":"Estación 32","a":1067,"b":1078},{"s":"Estación 32","a":1098,"b":1114},{"s":"Estación 32","a":1128,"b":1134},{"s":"Estación 32","a":1164,"b":1170},{"s":"Estación 32","a":1182,"b":1190},{"s":"Estación 32","a":1196,"b":1202},{"s":"Estación 32","a":1220,"b":1232},{"s":"Estación 32","a":1238,"b":1244},{"s":"Estación 32","a":1274,"b":1294},{"s":"Estación 32","a":1310,"b":1330},{"s":"Estación 32","a":1336,"b":1362},{"s":"Estación 32","a":1372,"b":1382},{"s":"Estación 32","a":1403,"b":1414},{"s":"Estación 32","a":1428,"b":1446},{"s":"Estación 32","a":1464,"b":1476},{"s":"Estación 32","a":1489,"b":1505},{"s":"Estación 32","a":1518,"b":1536},
      {"s":"Estación 35","a":58,"b":64},{"s":"Estación 35","a":70,"b":76},{"s":"Estación 35","a":101,"b":106},{"s":"Estación 35","a":126,"b":132},{"s":"Estación 35","a":162,"b":168},{"s":"Estación 35","a":193,"b":199},{"s":"Estación 35","a":224,"b":230},{"s":"Estación 35","a":255,"b":261},{"s":"Estación 35","a":308,"b":316},{"s":"Estación 35","a":340,"b":345},{"s":"Estación 35","a":400,"b":406},{"s":"Estación 35","a":437,"b":443},{"s":"Estación 35","a":482,"b":488},{"s":"Estación 35","a":493,"b":498},{"s":"Estación 35","a":524,"b":530},{"s":"Estación 35","a":535,"b":541},{"s":"Estación 35","a":548,"b":571},{"s":"Estación 35","a":602,"b":608},{"s":"Estación 35","a":616,"b":622},{"s":"Estación 35","a":699,"b":706},{"s":"Estación 35","a":731,"b":737},{"s":"Estación 35","a":741,"b":750},{"s":"Estación 35","a":756,"b":762},{"s":"Estación 35","a":767,"b":773},{"s":"Estación 35","a":943,"b":952},{"s":"Estación 35","a":957,"b":962},{"s":"Estación 35","a":973,"b":988},{"s":"Estación 35","a":1004,"b":1018},{"s":"Estación 35","a":1024,"b":1030},{"s":"Estación 35","a":1036,"b":1042},{"s":"Estación 35","a":1060,"b":1066},{"s":"Estación 35","a":1072,"b":1078},{"s":"Estación 35","a":1097,"b":1103},{"s":"Estación 35","a":1113,"b":1123},{"s":"Estación 35","a":1128,"b":1134},{"s":"Estación 35","a":1139,"b":1145},{"s":"Estación 35","a":1154,"b":1160},{"s":"Estación 35","a":1182,"b":1190},{"s":"Estación 35","a":1212,"b":1222},{"s":"Estación 35","a":1243,"b":1249},{"s":"Estación 35","a":1280,"b":1288},{"s":"Estación 35","a":1305,"b":1311},{"s":"Estación 35","a":1316,"b":1324},{"s":"Estación 35","a":1330,"b":1341},{"s":"Estación 35","a":1360,"b":1372},{"s":"Estación 35","a":1383,"b":1392},{"s":"Estación 35","a":1421,"b":1434},{"s":"Estación 35","a":1449,"b":1476},{"s":"Estación 35","a":1481,"b":1505},{"s":"Estación 35","a":1512,"b":1532},
      {"s":"Estación 36","a":58,"b":64},{"s":"Estación 36","a":70,"b":96},{"s":"Estación 36","a":101,"b":122},{"s":"Estación 36","a":131,"b":151},{"s":"Estación 36","a":157,"b":162},{"s":"Estación 36","a":168,"b":182},{"s":"Estación 36","a":204,"b":210},{"s":"Estación 36","a":223,"b":242},{"s":"Estación 36","a":249,"b":266},{"s":"Estación 36","a":272,"b":286},{"s":"Estación 36","a":316,"b":328},{"s":"Estación 36","a":333,"b":340},{"s":"Estación 36","a":344,"b":352},{"s":"Estación 36","a":364,"b":384},{"s":"Estación 36","a":400,"b":411},{"s":"Estación 36","a":437,"b":443},{"s":"Estación 36","a":456,"b":462},{"s":"Estación 36","a":482,"b":488},{"s":"Estación 36","a":497,"b":510},{"s":"Estación 36","a":524,"b":540},{"s":"Estación 36","a":548,"b":554},{"s":"Estación 36","a":559,"b":578},{"s":"Estación 36","a":585,"b":608},{"s":"Estación 36","a":616,"b":632},{"s":"Estación 36","a":652,"b":658},{"s":"Estación 36","a":664,"b":670},{"s":"Estación 36","a":675,"b":689},{"s":"Estación 36","a":711,"b":724},{"s":"Estación 36","a":736,"b":757},{"s":"Estación 36","a":767,"b":773},{"s":"Estación 36","a":803,"b":823},{"s":"Estación 36","a":834,"b":840},{"s":"Estación 36","a":884,"b":896},{"s":"Estación 36","a":927,"b":933},{"s":"Estación 36","a":938,"b":944},{"s":"Estación 36","a":957,"b":963},{"s":"Estación 36","a":973,"b":1000},{"s":"Estación 36","a":1004,"b":1018},{"s":"Estación 36","a":1024,"b":1030},{"s":"Estación 36","a":1055,"b":1061},{"s":"Estación 36","a":1066,"b":1072},{"s":"Estación 36","a":1097,"b":1109},{"s":"Estación 36","a":1113,"b":1123},{"s":"Estación 36","a":1128,"b":1134},{"s":"Estación 36","a":1159,"b":1170},{"s":"Estación 36","a":1189,"b":1212},{"s":"Estación 36","a":1256,"b":1268},{"s":"Estación 36","a":1305,"b":1311},{"s":"Estación 36","a":1316,"b":1324},{"s":"Estación 36","a":1336,"b":1341},{"s":"Estación 36","a":1355,"b":1361},{"s":"Estación 36","a":1366,"b":1372},{"s":"Estación 36","a":1377,"b":1384},{"s":"Estación 36","a":1396,"b":1403},{"s":"Estación 36","a":1408,"b":1421},{"s":"Estación 36","a":1438,"b":1444},{"s":"Estación 36","a":1459,"b":1465},{"s":"Estación 36","a":1489,"b":1505},{"s":"Estación 36","a":1526,"b":1536},
      {"s":"Estación 37","a":58,"b":70},{"s":"Estación 37","a":76,"b":99},{"s":"Estación 37","a":106,"b":114},{"s":"Estación 37","a":120,"b":137},{"s":"Estación 37","a":143,"b":149},{"s":"Estación 37","a":157,"b":163},{"s":"Estación 37","a":181,"b":199},{"s":"Estación 37","a":210,"b":234},{"s":"Estación 37","a":241,"b":255},{"s":"Estación 37","a":272,"b":321},{"s":"Estación 37","a":333,"b":340},{"s":"Estación 37","a":344,"b":352},{"s":"Estación 37","a":358,"b":375},{"s":"Estación 37","a":394,"b":411},{"s":"Estación 37","a":419,"b":443},{"s":"Estación 37","a":451,"b":472},{"s":"Estación 37","a":482,"b":497},{"s":"Estación 37","a":503,"b":524},{"s":"Estación 37","a":540,"b":566},{"s":"Estación 37","a":571,"b":584},{"s":"Estación 37","a":602,"b":627},{"s":"Estación 37","a":632,"b":652},{"s":"Estación 37","a":663,"b":683},{"s":"Estación 37","a":693,"b":720},{"s":"Estación 37","a":725,"b":750},{"s":"Estación 37","a":756,"b":762},{"s":"Estación 37","a":787,"b":798},{"s":"Estación 37","a":803,"b":808},{"s":"Estación 37","a":817,"b":834},{"s":"Estación 37","a":846,"b":859},{"s":"Estación 37","a":876,"b":890},{"s":"Estación 37","a":907,"b":912},{"s":"Estación 37","a":921,"b":928},{"s":"Estación 37","a":932,"b":952},{"s":"Estación 37","a":963,"b":980},{"s":"Estación 37","a":994,"b":1010},{"s":"Estación 37","a":1018,"b":1036},{"s":"Estación 37","a":1055,"b":1078},{"s":"Estación 37","a":1091,"b":1098},{"s":"Estación 37","a":1128,"b":1134},{"s":"Estación 37","a":1154,"b":1166},{"s":"Estación 37","a":1170,"b":1196},{"s":"Estación 37","a":1200,"b":1211},{"s":"Estación 37","a":1212,"b":1228},{"s":"Estación 37","a":1232,"b":1250},{"s":"Estación 37","a":1264,"b":1270},{"s":"Estación 37","a":1274,"b":1282},{"s":"Estación 37","a":1288,"b":1310},{"s":"Estación 37","a":1330,"b":1378},{"s":"Estación 37","a":1383,"b":1403},{"s":"Estación 37","a":1413,"b":1428},{"s":"Estación 37","a":1438,"b":1464},{"s":"Estación 37","a":1476,"b":1526},{"s":"Estación 37","a":1531,"b":1536}
    ]
  },
  "layer": [
    {
      "data": {"name": "rojo"},
      "mark": {"type": "bar", "width": 12, "xOffset": 4, "color": "#ff8ed6"},
      "encoding": {
        "x": {"field": "s", "type": "nominal", "title": "Location.name",
              "scale": {"type": "point", "range": [75, 1232.5], "padding": 0, "domain": ["Estación 2","Estación 7","Estación 8","Estación 10","Estación 11","Estación 12","Estación 13","Estación 14","Estación 15","Estación 16","Estación 17","Estación 18","Estación 19","Estación 22","Estación 23","Estación 24","Estación 25","Estación 27","Estación 28","Estación 29","Estación 30","Estación 32","Estación 35","Estación 36","Estación 37"]}},
        "y": {"field": "a", "type": "quantitative", "scale": {"domain": [-34, 1591], "reverse": true, "nice": false, "zero": false}, "axis": {"values": [693]}},
        "y2": {"field": "b"}
      }
    },
    {
      "data": {"name": "rojo"},
      "mark": {"type": "bar", "width": 8, "xOffset": 2, "color": "#ff0000"},
      "encoding": {
        "x": {"field": "s", "type": "nominal", "title": "Location.name"},
        "y": {"field": "a", "type": "quantitative", "axis": {"values": [693]}},
        "y2": {"field": "b"}
      }
    },
    {
      "data": {"name": "negro"},
      "mark": {"type": "bar", "width": 9, "xOffset": -6.5, "color": "#000000"},
      "encoding": {
        "x": {"field": "s", "type": "nominal", "title": "Location.name"},
        "y": {"field": "a", "type": "quantitative", "axis": {"values": [693]}},
        "y2": {"field": "b"}
      }
    },
    {
      "data": {"values": [{"borde": "superior", "v": -34}, {"borde": "inferior", "v": 1591}]},
      "mark": {"type": "rule", "color": "black", "strokeWidth": 3},
      "encoding": {"y": {"field": "v", "type": "quantitative", "axis": {"values": [693]}}}
    }
  ]
}
